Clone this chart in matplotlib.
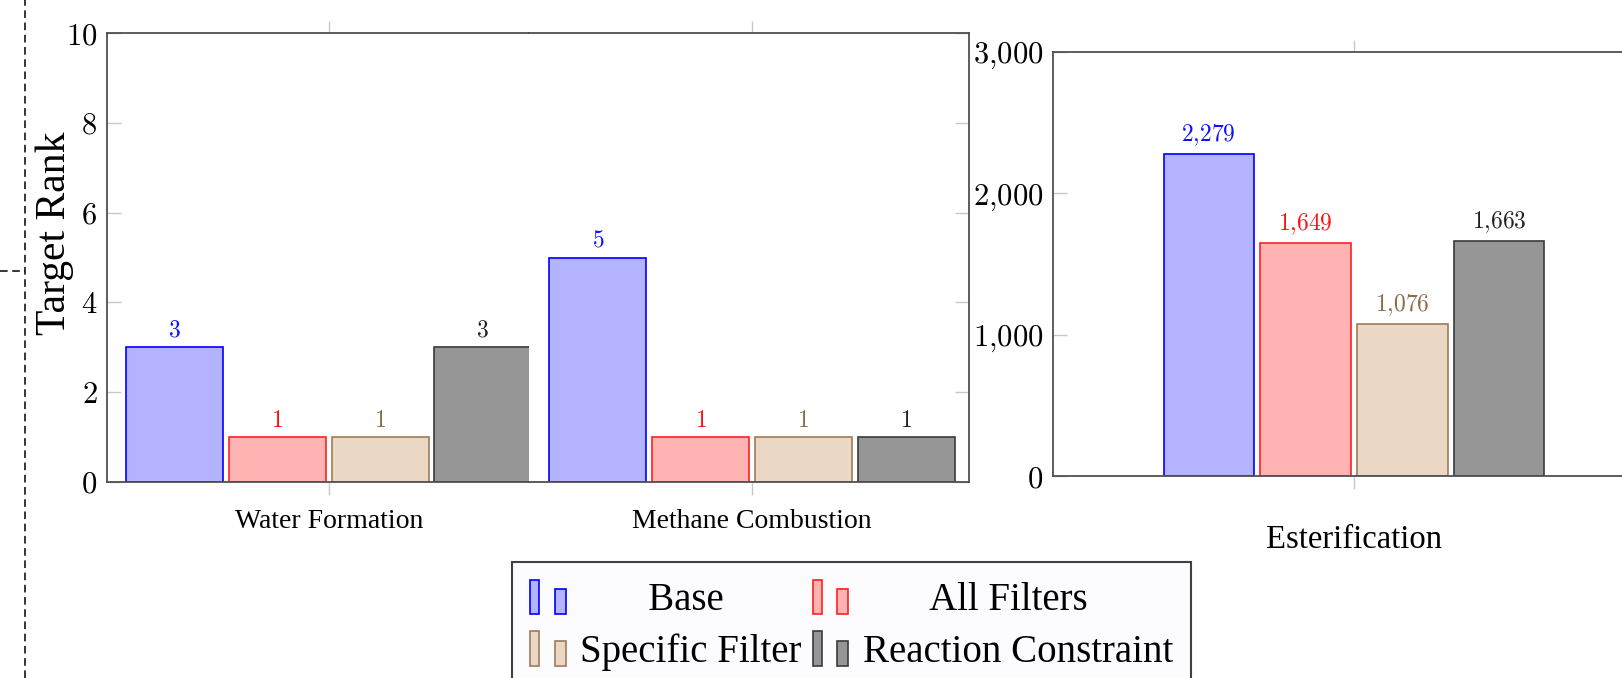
import matplotlib
matplotlib.use("Agg")
import matplotlib.pyplot as plt
from matplotlib.patches import Rectangle
from matplotlib.legend_handler import HandlerBase
from matplotlib.lines import Line2D
from matplotlib.ticker import FuncFormatter

# data
categories = ["Water Formation", "Methane Combustion", "Esterification"]
series = ["Base", "All Filters", "Specific Filter", "Reaction Constraint"]
base = [3, 5, 2279]
all_filters = [1, 1, 1649]
specific_filter = [1, 1, 1076]
reaction_constraint = [3, 1, 1663]
left_ticks = [0, 2, 4, 6, 8, 10]
right_ticks = [0, 1000, 2000, 3000]

fills = ['#B3B3FF', '#FFB3B3', '#EAD8C4', '#969696']
edges = ['#0000FF', '#FF2020', '#9E7B58', '#3A3A3A']
label_colors = ['#1010FF', '#FF1010', '#8B6B4A', '#222222']

plt.rcParams['font.family'] = ['Liberation Serif', 'DejaVu Serif']
plt.rcParams['mathtext.fontset'] = 'cm'

SPINE = '#505050'
TICK = '#C8C8C8'


def num(v):
    return '$' + f'{v:,}'.replace(',', '{,}') + '$'


def style_axis(ax, cat_size, cat_pad):
    for s in ax.spines.values():
        s.set_color(SPINE)
        s.set_linewidth(1.3)
    ax.tick_params(axis='y', direction='in', length=10, color=TICK, width=1,
                   labelsize=22, pad=7)
    ax.tick_params(axis='x', direction='out', length=9, color=TICK, width=1,
                   top=True, bottom=True, labelsize=cat_size, pad=cat_pad)
    ax.yaxis.set_major_formatter(FuncFormatter(lambda v, p: num(int(v))))


def draw_group(ax, i, width, label_size):
    vals = [base[i], all_filters[i], specific_filter[i], reaction_constraint[i]]
    for k, v in enumerate(vals):
        x = k - 1.5
        ax.bar(x, v, width=width, color=fills[k], edgecolor=edges[k],
               linewidth=1.2, zorder=2)
        ax.annotate(num(v), (x, v), xytext=(0, 4), textcoords='offset points',
                    ha='center', va='bottom', color=label_colors[k],
                    fontsize=label_size)
    ax.set_xticks([0])
    ax.set_xticklabels([categories[i]])


class TwoBarHandler(HandlerBase):
    def create_artists(self, legend, orig_handle, xdescent, ydescent,
                       width, height, fontsize, trans):
        fc = orig_handle.get_facecolor()
        ec = orig_handle.get_edgecolor()
        r1 = Rectangle((-xdescent, -ydescent), width * 0.25, height,
                       facecolor=fc, edgecolor=ec, lw=1.2, transform=trans)
        r2 = Rectangle((-xdescent + width * 0.64, -ydescent), width * 0.28,
                       height * 0.72, facecolor=fc, edgecolor=ec, lw=1.2,
                       transform=trans)
        return [r1, r2]


fig = plt.figure(figsize=(16.22, 6.78), dpi=100)

ax_w = fig.add_axes([0.0660, 0.2891, 0.2601, 0.6622])
ax_m = fig.add_axes([0.3261, 0.2891, 0.2713, 0.6622])
ax_e = fig.add_axes([0.6492, 0.2979, 0.3712, 0.6254])

# water formation
draw_group(ax_w, 0, 0.945, 17)
ax_w.set_xlim(-2.16, 1.95)
ax_w.set_ylim(0, 10)
ax_w.set_yticks(left_ticks)
style_axis(ax_w, 20, 10.5)
ax_w.spines['right'].set_visible(False)
ax_w.set_ylabel('Target Rank', fontsize=30)
ax_w.yaxis.set_label_coords(-0.078, 0.555)

# methane combustion
draw_group(ax_m, 1, 0.945, 17)
ax_m.set_xlim(-2.17, 2.11)
ax_m.set_ylim(0, 10)
ax_m.set_yticks(left_ticks)
style_axis(ax_m, 20, 10.5)
ax_m.spines['left'].set_visible(False)
ax_m.tick_params(axis='y', left=False, right=True, labelleft=False)

# esterification
draw_group(ax_e, 2, 0.934, 17)
ax_e.set_xlim(-3.11, 3.11)
ax_e.set_ylim(0, 3000)
ax_e.set_yticks(right_ticks)
style_axis(ax_e, 23.5, 26)

# legend
order = [0, 2, 1, 3]
handles = [Rectangle((0, 0), 1, 1, facecolor=fills[k], edgecolor=edges[k]) for k in order]
labels = ['       ' + series[0], series[2], '       ' + series[1], series[3]]
leg = fig.legend(handles, labels, ncol=2, loc='upper center',
                 bbox_to_anchor=(0.525, 0.171), fontsize=28,
                 handler_map={Rectangle: TwoBarHandler()},
                 handlelength=1.0, handleheight=1.0, handletextpad=0.3,
                 columnspacing=0.28, labelspacing=0.3, borderpad=0.45,
                 borderaxespad=0, fancybox=False, framealpha=1)
leg.get_frame().set_edgecolor('#404040')
leg.get_frame().set_linewidth(1.5)
leg.get_frame().set_facecolor('#FCFCFF')

# dashed bracket on the left edge
fig.add_artist(Line2D([25 / 1622, 25 / 1622], [0, 1], transform=fig.transFigure,
                      color='black', lw=1.1, ls=(0, (5, 3))))
fig.add_artist(Line2D([0, 25 / 1622], [1 - 271 / 678, 1 - 271 / 678],
                      transform=fig.transFigure, color='black', lw=1.1,
                      ls=(0, (5, 3))))

fig.savefig('out.png', dpi=100)
